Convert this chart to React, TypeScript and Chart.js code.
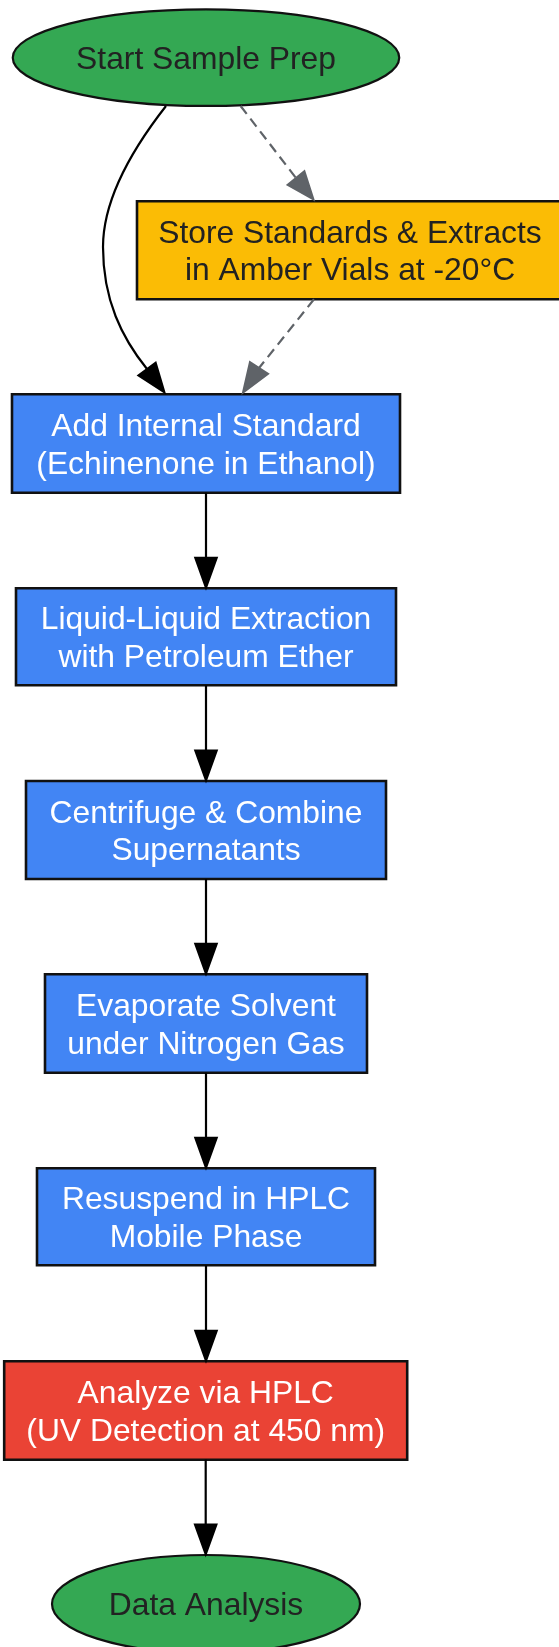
import React, { useEffect, useRef } from "react";
import { Chart, registerables } from "chart.js";

Chart.register(...registerables);

const CANVAS_W = 559;
const CANVAS_H = 1647;

// Node texts (one entry per line)
const nodeLabels: string[][] = [
  ["Start Sample Prep"],
  ["Store Standards & Extracts", "in Amber Vials at -20°C"],
  ["Add Internal Standard", "(Echinenone in Ethanol)"],
  ["Liquid-Liquid Extraction", "with Petroleum Ether"],
  ["Centrifuge & Combine", "Supernatants"],
  ["Evaporate Solvent", "under Nitrogen Gas"],
  ["Resuspend in HPLC", "Mobile Phase"],
  ["Analyze via HPLC", "(UV Detection at 450 nm)"],
  ["Data Analysis"],
];
const nodeKinds = ["terminal", "storage", "step", "step", "step", "step", "step", "analysis", "terminal"];

// Layout coordinates (diagram units)
const nodeX = [206, 350, 206, 206, 206, 206, 206, 205.7, 206];
const nodeY = [57.7, 250.3, 443.5, 636.8, 830, 1023.5, 1216.8, 1410.5, 1604];
const nodeW = [386.5, 426, 388, 380, 360, 322, 338, 403, 308];
const nodeH = [96.5, 98, 98.4, 97, 98, 98.4, 97, 98.4, 98];

// Edges
const edgeFrom = [0, 0, 1, 2, 3, 4, 5, 6, 7];
const edgeTo = [2, 1, 2, 3, 4, 5, 6, 7, 8];
const edgeDashed = [false, true, true, false, false, false, false, false, false];
// Explicit routes: start, (bezier triples | base), tip
const edgeRoutes: (number[][] | null)[] = [
  [[166, 106], [130, 152], [103, 200], [103, 247], [103, 300], [122, 338], [147, 369], [164.5, 392.5]],
  [[240.6, 106], [296, 178], [313.5, 199.5]],
  [[314, 299.3], [259, 368], [243, 392.5]],
  null, null, null, null, null, null,
];

const kindFill: Record<string, string> = {
  terminal: "#34A853",
  storage: "#FBBC05",
  step: "#4285F4",
  analysis: "#EA4335",
};
const kindText: Record<string, string> = {
  terminal: "#222222",
  storage: "#222222",
  step: "#FFFFFF",
  analysis: "#FFFFFF",
};

const FONT_PX = 31.8;
const LINE_H = 37.6;
const FONT = `${FONT_PX}px "Liberation Sans", Arial, Helvetica, sans-serif`;

const diagramPlugin = {
  id: "diagram",
  afterDatasetsDraw(chart: any) {
    const ctx: CanvasRenderingContext2D = chart.ctx;
    const xs = chart.scales.x;
    const ys = chart.scales.y;
    const px = (v: number) => xs.getPixelForValue(v);
    const py = (v: number) => ys.getPixelForValue(v);

    ctx.save();

    // Nodes
    for (let i = 0; i < nodeLabels.length; i++) {
      const kind = nodeKinds[i];
      const left = px(nodeX[i] - nodeW[i] / 2);
      const right = px(nodeX[i] + nodeW[i] / 2);
      const top = py(nodeY[i] - nodeH[i] / 2);
      const bottom = py(nodeY[i] + nodeH[i] / 2);
      const cx = px(nodeX[i]);
      const cy = py(nodeY[i]);
      ctx.beginPath();
      if (kind === "terminal") {
        ctx.ellipse(cx, cy, Math.abs(right - left) / 2, Math.abs(bottom - top) / 2, 0, 0, Math.PI * 2);
      } else {
        ctx.rect(left, top, right - left, bottom - top);
      }
      ctx.fillStyle = kindFill[kind];
      ctx.fill();
      ctx.lineWidth = kind === "terminal" ? 2.2 : 2.6;
      ctx.strokeStyle = "#111111";
      ctx.stroke();

      // Text
      const lines = nodeLabels[i];
      ctx.font = FONT;
      ctx.fillStyle = kindText[kind];
      ctx.textAlign = "center";
      ctx.textBaseline = "alphabetic";
      const capH = FONT_PX * 0.716;
      const blockH = (lines.length - 1) * LINE_H + capH;
      const firstBase = cy - blockH / 2 + capH;
      lines.forEach((ln, k) => {
        ctx.fillText(ln, cx, firstBase + k * LINE_H);
      });
    }

    // Edges
    for (let e = 0; e < edgeFrom.length; e++) {
      let route = edgeRoutes[e];
      if (!route) {
        const a = edgeFrom[e];
        const b = edgeTo[e];
        const sx = nodeX[a];
        const sy = nodeY[a] + nodeH[a] / 2;
        const ty = nodeY[b] - nodeH[b] / 2 - 0.5;
        route = [[sx, sy], [sx, ty - 30], [sx, ty]];
      }
      const color = edgeDashed[e] ? "#5F6368" : "#000000";
      const pts = route.map((p) => [px(p[0]), py(p[1])]);
      const start = pts[0];
      const tip = pts[pts.length - 1];
      const mid = pts.slice(1, -1);
      const base = mid[mid.length - 1];

      ctx.beginPath();
      ctx.moveTo(start[0], start[1]);
      if (mid.length % 3 === 0) {
        for (let k = 0; k < mid.length; k += 3) {
          ctx.bezierCurveTo(mid[k][0], mid[k][1], mid[k + 1][0], mid[k + 1][1], mid[k + 2][0], mid[k + 2][1]);
        }
      } else {
        mid.forEach((p) => ctx.lineTo(p[0], p[1]));
      }
      ctx.strokeStyle = color;
      ctx.lineWidth = 2.2;
      ctx.setLineDash(edgeDashed[e] ? [10, 6] : []);
      ctx.stroke();
      ctx.setLineDash([]);

      // Arrowhead
      const dx = tip[0] - base[0];
      const dy = tip[1] - base[1];
      const len = Math.hypot(dx, dy) || 1;
      const nx = -dy / len;
      const ny = dx / len;
      const hw = 10.8;
      ctx.beginPath();
      ctx.moveTo(tip[0], tip[1]);
      ctx.lineTo(base[0] + nx * hw, base[1] + ny * hw);
      ctx.lineTo(base[0] - nx * hw, base[1] - ny * hw);
      ctx.closePath();
      ctx.fillStyle = color;
      ctx.fill();
      ctx.lineWidth = 2;
      ctx.stroke();
    }

    ctx.restore();
  },
};

export default function App() {
  const canvasRef = useRef<HTMLCanvasElement | null>(null);

  useEffect(() => {
    const canvas = canvasRef.current;
    if (!canvas) return;
    const chart = new Chart(canvas, {
      type: "scatter",
      data: {
        datasets: [
          {
            label: "nodes",
            data: nodeX.map((x, i) => ({ x, y: nodeY[i] })),
            pointRadius: 0,
            pointHoverRadius: 0,
          },
        ],
      },
      options: {
        animation: false,
        responsive: false,
        devicePixelRatio: 1,
        layout: { padding: 0 },
        events: [],
        scales: {
          x: { type: "linear", min: 0, max: CANVAS_W, display: false },
          y: { type: "linear", min: 0, max: CANVAS_H, reverse: true, display: false },
        },
        plugins: {
          legend: { display: false },
          tooltip: { enabled: false },
          title: { display: false },
        },
      },
      plugins: [diagramPlugin],
    });
    return () => chart.destroy();
  }, []);

  return (
    <div style={{ position: "absolute", left: 0, top: 0, width: CANVAS_W, height: CANVAS_H, background: "#FFFFFF" }}>
      <canvas ref={canvasRef} width={CANVAS_W} height={CANVAS_H} style={{ display: "block" }} />
    </div>
  );
}
